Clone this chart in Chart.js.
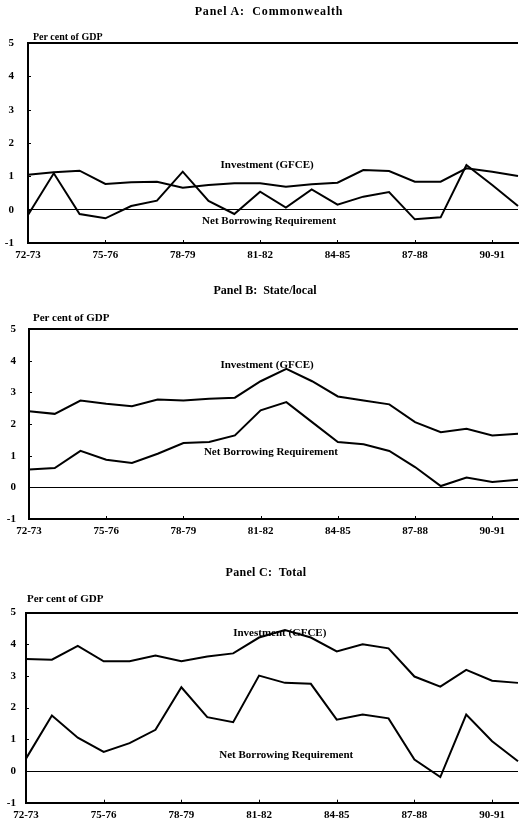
<!DOCTYPE html>
<html>
<head>
<meta charset="utf-8">
<title>Public sector investment and net borrowing</title>
<script src="https://cdn.jsdelivr.net/npm/chart.js@4/dist/chart.umd.min.js"></script>
<style>
  html, body { margin: 0; padding: 0; background: #fff; width: 520px; height: 823px; overflow: hidden; }
  canvas { position: absolute; left: 0; }
  .t { position: absolute; font: bold 11px "Liberation Serif", "Times New Roman", serif; color: #000; white-space: nowrap; line-height: 14px; z-index: 2; }
  .h { font-size: 12px; }
  .c { transform: translateX(-50%); }
</style>
</head>
<body>
<div class="t h c" style="left:269px;top:4px;letter-spacing:0.8px;">Panel A:&nbsp; Commonwealth</div>
<div class="t" style="left:33px;top:30px;font-size:10px;">Per cent of GDP</div>
<div class="t h c" style="left:265px;top:283px;">Panel B:&nbsp; State/local</div>
<div class="t" style="left:33px;top:310px;">Per cent of GDP</div>
<div class="t h c" style="left:266px;top:565px;letter-spacing:0.3px;">Panel C:&nbsp; Total</div>
<div class="t" style="left:27px;top:591px;">Per cent of GDP</div>

<canvas id="panelA" width="524" height="270" style="top:0px;"></canvas>
<canvas id="panelB" width="524" height="275" style="top:270px;"></canvas>
<canvas id="panelC" width="524" height="278" style="top:545px;"></canvas>

<script>
// Financial years on the horizontal axis
const years = ['72-73','73-74','74-75','75-76','76-77','77-78','78-79','79-80','80-81','81-82',
               '82-83','83-84','84-85','85-86','86-87','87-88','88-89','89-90','90-91','91-92'];
// Years that carry a printed label
const xTickLabels = ['72-73','75-76','78-79','81-82','84-85','87-88','90-91'];
// Vertical axis ticks (per cent of GDP)
const yTicks = [-1, 0, 1, 2, 3, 4, 5];

// Panel A: Commonwealth
const cwInvestment = [1.05,1.12,1.17,0.77,0.82,0.84,0.66,0.74,0.79,0.79,
                      0.69,0.76,0.81,1.19,1.16,0.84,0.84,1.24,1.14,1.01];
const cwBorrowing  = [-0.16,1.09,-0.13,-0.26,0.11,0.27,1.14,0.26,-0.13,0.54,
                      0.06,0.61,0.15,0.39,0.53,-0.29,-0.23,1.34,0.74,0.11];

// Panel B: State/local
const slInvestment = [2.40,2.32,2.74,2.64,2.56,2.77,2.74,2.80,2.83,3.35,
                      3.74,3.35,2.87,2.74,2.62,2.06,1.74,1.85,1.64,1.69];
const slBorrowing  = [0.56,0.61,1.15,0.87,0.77,1.06,1.40,1.43,1.64,2.43,
                      2.69,2.06,1.43,1.36,1.15,0.64,0.04,0.31,0.17,0.24];

// Panel C: Total
const totInvestment = [3.53,3.51,3.95,3.46,3.46,3.64,3.46,3.61,3.71,4.21,
                       4.45,4.21,3.77,4.00,3.87,2.98,2.66,3.19,2.85,2.78];
const totBorrowing  = [0.39,1.75,1.05,0.60,0.88,1.30,2.64,1.70,1.54,3.01,
                       2.78,2.75,1.62,1.78,1.66,0.36,-0.19,1.78,0.94,0.31];

const FONT = { family: '"Liberation Serif", "Times New Roman", serif', weight: 'bold', size: 11 };

// Series names written beside their lines, placed in data units (category index, value)
const notesPlugin = {
  id: 'seriesNotes',
  afterDatasetsDraw(chart, args, opts) {
    const { ctx, scales: { x, y }, chartArea } = chart;
    ctx.save();
    // short inner tick marks on both axes
    ctx.strokeStyle = '#000';
    ctx.lineWidth = 1;
    ctx.beginPath();
    yTicks.forEach(v => {
      if (v <= -1 || v >= 5) return;
      const py = Math.round(y.getPixelForValue(v)) + 0.5;
      ctx.moveTo(chartArea.left, py);
      ctx.lineTo(chartArea.left + 3, py);
    });
    xTickLabels.forEach(lbl => {
      const px = Math.round(x.getPixelForValue(years.indexOf(lbl))) + 0.5;
      ctx.moveTo(px, chartArea.bottom);
      ctx.lineTo(px, chartArea.bottom - 3);
    });
    ctx.stroke();
    // line labels
    ctx.fillStyle = '#000';
    ctx.font = 'bold 11px "Liberation Serif", "Times New Roman", serif';
    ctx.textAlign = 'center';
    ctx.textBaseline = 'middle';
    (opts.items || []).forEach(n => {
      ctx.fillText(n.text, x.getPixelForValue(n.x), y.getPixelForValue(n.y));
    });
    ctx.restore();
  }
};

function makePanel(id, investment, borrowing, geo, notes) {
  const line = data => ({
    data, borderColor: '#000', borderWidth: 2, pointRadius: 0, tension: 0,
    fill: false, borderJoinStyle: 'miter'
  });
  return new Chart(document.getElementById(id), {
    type: 'line',
    data: { labels: years, datasets: [line(investment), line(borrowing)] },
    options: {
      responsive: false,
      animation: false,
      devicePixelRatio: 1,
      layout: { padding: { top: geo.top, right: 3, left: 0, bottom: 0 } },
      plugins: {
        legend: { display: false },
        tooltip: { enabled: false },
        seriesNotes: { items: notes }
      },
      scales: {
        x: {
          type: 'category',
          offset: false,
          grid: { display: false, drawTicks: false },
          border: { display: true, color: '#000', width: 2 },
          ticks: {
            autoSkip: false, maxRotation: 0, minRotation: 0, padding: 6,
            color: '#000', font: FONT,
            callback: (v, i) => xTickLabels.includes(years[i]) ? years[i] : ''
          },
          afterFit: s => { s.height = geo.xh; }
        },
        y: {
          min: yTicks[0], max: yTicks[yTicks.length - 1],
          afterBuildTicks: s => { s.ticks = yTicks.map(v => ({ value: v })); },
          grid: {
            drawTicks: false,
            color: c => (c.tick && (c.tick.value === 0 || c.tick.value === 5)) ? '#000' : 'rgba(0,0,0,0)',
            lineWidth: c => (c.tick && c.tick.value === 5) ? 2 : 1
          },
          border: { display: true, color: '#000', width: 2 },
          ticks: { padding: geo.ypad, color: '#000', font: FONT },
          afterFit: s => { s.width = geo.left; }
        }
      }
    },
    plugins: [notesPlugin]
  });
}

makePanel('panelA', cwInvestment, cwBorrowing,
  { top: 43, xh: 27, left: 28, ypad: 14 },
  [{ text: 'Investment (GFCE)', x: 9.27, y: 1.34 },
   { text: 'Net Borrowing Requirement', x: 9.35, y: -0.33 }]);

makePanel('panelB', slInvestment, slBorrowing,
  { top: 59, xh: 26, left: 29, ypad: 13 },
  [{ text: 'Investment (GFCE)', x: 9.25, y: 3.85 },
   { text: 'Net Borrowing Requirement', x: 9.4, y: 1.11 }]);

makePanel('panelC', totInvestment, totBorrowing,
  { top: 67.5, xh: 20.3, left: 26, ypad: 10 },
  [{ text: 'Investment (GFCE)', x: 9.8, y: 4.34 },
   { text: 'Net Borrowing Requirement', x: 10.05, y: 0.49 }]);
</script>
</body>
</html>
